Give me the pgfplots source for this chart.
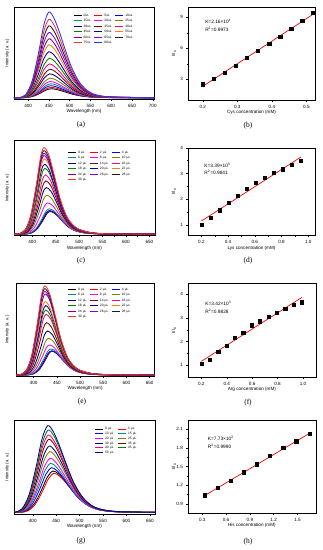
\documentclass[border=0pt]{standalone}
\usepackage{pgfplots}
\pgfplotsset{compat=1.18}
\usepackage{fontspec}
\setmainfont{Liberation Sans}
\newfontfamily\capfont{Liberation Serif}
\definecolor{cBlack}{HTML}{000000}
\definecolor{cRed}{HTML}{FF0000}
\definecolor{cBlue}{HTML}{0000FF}
\definecolor{cTeal}{HTML}{008B8B}
\definecolor{cMag}{HTML}{FF00FF}
\definecolor{cOlive}{HTML}{808000}
\definecolor{cNavy}{HTML}{000080}
\definecolor{cWine}{HTML}{800000}
\definecolor{cPink}{HTML}{FF0080}
\definecolor{cGreen}{HTML}{008000}
\definecolor{cRoyal}{HTML}{0000A0}
\definecolor{cOrange}{HTML}{FF8000}
\definecolor{cPurple}{HTML}{800080}
\definecolor{cViolet}{HTML}{8000FF}
\definecolor{cDark}{HTML}{1A1A1A}
\definecolor{cLRed}{HTML}{FF3030}
\definecolor{cLBlue}{HTML}{3030FF}
\pgfplotsset{
  base/.style={scale only axis, anchor=south west,
    axis line style={line width=0.4pt}, tick style={line width=0.35pt, black},
    tick align=outside, major tick length=1.6pt, minor tick length=0.9pt,
    xtick pos=lower, ytick pos=left,
    ticklabel style={font=\fontsize{4.6}{5}\selectfont},
    /pgf/number format/assume math mode=true,
    label style={font=\fontsize{4.6}{5}\selectfont}},
  spec/.style={base, ytick=\empty, xtick distance=50, minor x tick num=1,
    ylabel={Intensity (a. u.)}, xlabel={Wavelength (nm)},
    ylabel style={anchor=center, font=\fontsize{4.2}{5}\selectfont},
    xlabel style={at={(axis description cs:0.5,0)}, anchor=center, yshift=-12.5pt},
    every axis plot/.append style={line width=0.85pt, smooth, no marks},
    legend style={draw=none, fill=none, font=\fontsize{3.3}{3.8}\selectfont,
      inner sep=0pt, column sep=0.8pt, row sep=0.8pt, anchor=north west,
      nodes={inner sep=0.7pt, text height=2.6pt, text depth=0.7pt, align=left}},
    legend image code/.code={\draw[##1, line width=0.9pt] (0pt,0pt) -- (8pt,0pt);}},
  sv/.style={base, clip=false, minor tick num=1,
    ylabel={I/I\textsubscript{0}},
    ylabel style={at={(axis description cs:-0.11,0.5)}, anchor=center},
    xlabel style={at={(axis description cs:0.5,0)}, anchor=center, yshift=-12.5pt}},
  pts/.style={only marks, mark=square*, mark size=1.6pt, black},
  fit/.style={cRed, line width=0.7pt, no marks}
}
\begin{document}
\begin{tikzpicture}
\useasboundingbox (0,0) rectangle (323pt,-550pt);
% ---------------- (a) ----------------
\begin{axis}[spec, at={(14pt,-99pt)}, width=140pt, height=92pt,
  xmin=366, xmax=703, ymin=-4, ymax=274,
  ylabel style={at={(axis description cs:-0.048,0.5)}},
  legend columns=3,
  legend style={at={(axis description cs:0.421,0.94)}, nodes={text width=9pt}}]
\addplot[cBlack] coordinates {(366,0)(385,0)(400,1.1)(415,5.4)(430,14.0)(443,23.0)(455,27)(467,25.1)(480,20.8)(495,14.9)(510,9.5)(530,4.6)(555,1.6)(595,0.3)(703,0)};
\addplot[cRed] coordinates {(366,0)(385,0)(400,1.2)(415,6.2)(430,16.1)(443,26.4)(455,31)(467,28.8)(480,23.9)(495,17.1)(510,10.9)(530,5.3)(555,1.9)(595,0.4)(703,0)};
\addplot[cBlue] coordinates {(366,0)(384,0)(399,1.4)(414,7.2)(429,18.7)(442,30.6)(454,36)(466,33.5)(479,27.7)(494,19.8)(509,12.6)(529,6.1)(554,2.2)(594,0.4)(703,0)};
\addplot[cTeal] coordinates {(366,0)(384,0)(399,1.7)(414,8.4)(429,21.8)(442,35.7)(454,42)(466,39.1)(479,32.3)(494,23.1)(509,14.7)(529,7.1)(554,2.5)(594,0.5)(703,0)};
\addplot[cMag] coordinates {(366,0)(383,0)(398,2.0)(413,9.8)(428,25.5)(441,41.7)(453,49)(465,45.6)(478,37.7)(493,27.0)(508,17.2)(528,8.3)(553,2.9)(593,0.6)(703,0)};
\addplot[cOlive] coordinates {(366,0)(383,0)(398,2.4)(413,11.8)(428,30.7)(441,50.2)(453,59)(465,54.9)(478,45.4)(493,32.5)(508,20.7)(528,10.0)(553,3.5)(593,0.7)(703,0)};
\addplot[cNavy] coordinates {(366,0)(382,0)(397,2.9)(412,14.4)(427,37.4)(440,61.2)(452,72)(464,67.0)(477,55.4)(492,39.6)(507,25.2)(527,12.2)(552,4.3)(592,0.9)(703,0)};
\addplot[cWine] coordinates {(366,0)(382,0)(397,3.4)(412,17.2)(427,44.7)(440,73.1)(452,86)(464,80.0)(477,66.2)(492,47.3)(507,30.1)(527,14.6)(552,5.2)(592,1.0)(703,0)};
\addplot[cPink] coordinates {(366,0)(381,0)(396,4.1)(411,20.4)(426,53.0)(439,86.7)(451,102)(463,94.9)(476,78.5)(491,56.1)(506,35.7)(526,17.3)(551,6.1)(591,1.2)(703,0)};
\addplot[cGreen] coordinates {(366,0)(381,0)(396,4.8)(411,23.8)(426,61.9)(439,101.2)(451,119)(463,110.7)(476,91.6)(491,65.5)(506,41.7)(526,20.2)(551,7.1)(591,1.4)(703,0)};
\addplot[cRoyal] coordinates {(366,0)(380,0)(395,5.6)(410,27.8)(425,72.3)(438,118.2)(450,139)(462,129.3)(475,107.0)(490,76.5)(505,48.7)(525,23.6)(550,8.3)(590,1.7)(703,0)};
\addplot[cOrange] coordinates {(366,0)(380,0)(395,6.4)(410,32)(425,83.2)(438,136)(450,160)(462,148.8)(475,123.2)(490,88)(505,56)(525,27.2)(550,9.6)(590,1.9)(703,0)};
\addplot[cPurple] coordinates {(366,0)(380,0)(395,7.1)(410,35.6)(425,92.6)(438,151.3)(450,178)(462,165.5)(475,137.1)(490,97.9)(505,62.3)(525,30.3)(550,10.7)(590,2.1)(703,0)};
\addplot[cViolet] coordinates {(366,0)(380,0)(395,7.9)(410,39.4)(425,102.4)(438,167.5)(450,197)(462,183.2)(475,151.7)(490,108.4)(505,69.0)(525,33.5)(550,11.8)(590,2.4)(703,0)};
\addplot[cDark] coordinates {(366,0)(380,0)(395,8.7)(410,43.4)(425,112.8)(438,184.5)(450,217)(462,201.8)(475,167.1)(490,119.4)(505,76.0)(525,36.9)(550,13.0)(590,2.6)(703,0)};
\addplot[cLRed] coordinates {(366,0)(380,0)(395,9.5)(410,47.4)(425,123.2)(438,201.5)(450,237)(462,220.4)(475,182.5)(490,130.4)(505,83.0)(525,40.3)(550,14.2)(590,2.8)(703,0)};
\addplot[cLBlue] coordinates {(366,0)(380,0)(395,10.4)(410,51.8)(425,134.7)(438,220.2)(450,259)(462,240.9)(475,199.4)(490,142.5)(505,90.7)(525,44.0)(550,15.5)(590,3.1)(703,0)};
\legend{0uL,5uL,10uL,15uL,20uL,25uL,30uL,35uL,40uL,45uL,50uL,55uL,60uL,65uL,70uL,75uL,80uL}
\end{axis}
% ---------------- (c) ----------------
\begin{axis}[spec, at={(14pt,-235.5pt)}, width=141pt, height=95.5pt,
  xmin=361, xmax=662, ymin=-4, ymax=283,
  ylabel style={at={(axis description cs:-0.048,0.5)}},
  legend columns=3,
  legend style={at={(axis description cs:0.379,0.90)}, nodes={text width=10pt}}]
\addplot[cBlack] coordinates {(361,0)(383,0)(398,3.4)(410,15.0)(422,39.4)(431,61.2)(438,68)(448,62.6)(460,46.2)(473,27.2)(488,12.9)(508,4.8)(538,1.2)(578,0.3)(662,0)};
\addplot[cRed] coordinates {(361,0)(382,0)(397,3.5)(409,15.4)(421,40.6)(430,63)(437,70)(447,64.4)(459,47.6)(472,28)(487,13.3)(507,4.9)(537,1.3)(577,0.3)(662,0)};
\addplot[cBlue] coordinates {(361,0)(382,0)(397,3.6)(409,15.6)(421,41.2)(430,63.9)(437,71)(447,65.3)(459,48.3)(472,28.4)(487,13.5)(507,5.0)(537,1.3)(577,0.3)(662,0)};
\addplot[cTeal] coordinates {(361,0)(381,0)(396,3.8)(408,16.7)(420,44.1)(429,68.4)(436,76)(446,69.9)(458,51.7)(471,30.4)(486,14.4)(506,5.3)(536,1.4)(576,0.3)(662,0)};
\addplot[cMag] coordinates {(361,0)(378,0)(393,4.7)(405,20.7)(417,54.5)(426,84.6)(433,94)(443,86.5)(455,63.9)(468,37.6)(483,17.9)(503,6.6)(533,1.7)(573,0.4)(662,0)};
\addplot[cOlive] coordinates {(361,0)(376,0)(391,5.9)(403,25.7)(415,67.9)(424,105.3)(431,117)(441,107.6)(453,79.6)(466,46.8)(481,22.2)(501,8.2)(531,2.1)(571,0.5)(662,0)};
\addplot[cNavy] coordinates {(361,0)(375,0)(390,7)(402,30.8)(414,81.2)(423,126)(430,140)(440,128.8)(452,95.2)(465,56)(480,26.6)(500,9.8)(530,2.5)(570,0.6)(662,0)};
\addplot[cWine] coordinates {(361,0)(374,0)(389,8)(401,35.2)(413,92.8)(422,144)(429,160)(439,147.2)(451,108.8)(464,64)(479,30.4)(499,11.2)(529,2.9)(569,0.6)(662,0)};
\addplot[cPink] coordinates {(361,0)(373,0)(388,8.9)(400,39.2)(412,103.2)(421,160.2)(428,178)(438,163.8)(450,121.0)(463,71.2)(478,33.8)(498,12.5)(528,3.2)(568,0.7)(662,0)};
\addplot[cGreen] coordinates {(361,0)(372,0)(387,9.9)(399,43.6)(411,114.8)(420,178.2)(427,198)(437,182.2)(449,134.6)(462,79.2)(477,37.6)(497,13.9)(527,3.6)(567,0.8)(662,0)};
\addplot[cRoyal] coordinates {(361,0)(371,0)(386,10.5)(398,46.2)(410,121.8)(419,189)(426,210)(436,193.2)(448,142.8)(461,84)(476,39.9)(496,14.7)(526,3.8)(566,0.8)(662,0)};
\addplot[cOrange] coordinates {(361,0)(371,0)(386,11.3)(398,49.7)(410,131.1)(419,203.4)(426,226)(436,207.9)(448,153.7)(461,90.4)(476,42.9)(496,15.8)(526,4.1)(566,0.9)(662,0)};
\addplot[cPurple] coordinates {(361,0)(370,0)(385,11.8)(397,51.9)(409,136.9)(418,212.4)(425,236)(435,217.1)(447,160.5)(460,94.4)(475,44.8)(495,16.5)(525,4.2)(565,0.9)(662,0)};
\addplot[cViolet] coordinates {(361,0)(370,0)(385,12.2)(397,53.5)(409,140.9)(418,218.7)(425,243)(435,223.6)(447,165.2)(460,97.2)(475,46.2)(495,17.0)(525,4.4)(565,1.0)(662,0)};
\addplot[cDark] coordinates {(361,0)(370,0)(385,12.6)(397,55.2)(409,145.6)(418,225.9)(425,251)(435,230.9)(447,170.7)(460,100.4)(475,47.7)(495,17.6)(525,4.5)(565,1.0)(662,0)};
\addplot[cLRed] coordinates {(361,0)(370,0)(385,13)(397,57.2)(409,150.8)(418,234)(425,260)(435,239.2)(447,176.8)(460,104)(475,49.4)(495,18.2)(525,4.7)(565,1.0)(662,0)};
\legend{0 µL,2 µL,4 µL,6 µL,8 µL,10 µL,12 µL,14 µL,16 µL,18 µL,20 µL,22 µL,24 µL,26 µL,28 µL,30 µL}
\end{axis}
% ---------------- (e) ----------------
\begin{axis}[spec, at={(16pt,-376pt)}, width=138.3pt, height=92.7pt,
  xmin=362, xmax=660, ymin=-3, ymax=275,
  ylabel style={at={(axis description cs:-0.063,0.5)}},
  legend columns=3,
  legend style={at={(axis description cs:0.372,0.965)}, nodes={text width=10pt}}]
\addplot[cBlack] coordinates {(362,0)(385,0)(400,3.6)(412,15.8)(424,41.8)(433,64.8)(440,72)(450,66.2)(462,49.0)(475,28.8)(490,13.7)(510,5.0)(540,1.3)(580,0.3)(660,0)};
\addplot[cRed] coordinates {(362,0)(384,0)(399,3.6)(411,15.8)(423,41.8)(432,64.8)(439,72)(449,66.2)(461,49.0)(474,28.8)(489,13.7)(509,5.0)(539,1.3)(579,0.3)(660,0)};
\addplot[cBlue] coordinates {(362,0)(383,0)(398,3.6)(410,15.8)(422,41.8)(431,64.8)(438,72)(448,66.2)(460,49.0)(473,28.8)(488,13.7)(508,5.0)(538,1.3)(578,0.3)(660,0)};
\addplot[cTeal] coordinates {(362,0)(382,0)(397,3.9)(409,17.2)(421,45.2)(430,70.2)(437,78)(447,71.8)(459,53.0)(472,31.2)(487,14.8)(507,5.5)(537,1.4)(577,0.3)(660,0)};
\addplot[cMag] coordinates {(362,0)(379,0)(394,4.5)(406,19.8)(418,52.2)(427,81)(434,90)(444,82.8)(456,61.2)(469,36)(484,17.1)(504,6.3)(534,1.6)(574,0.4)(660,0)};
\addplot[cOlive] coordinates {(362,0)(377,0)(392,5.5)(404,24.2)(416,63.8)(425,99)(432,110)(442,101.2)(454,74.8)(467,44)(482,20.9)(502,7.7)(532,2.0)(572,0.4)(660,0)};
\addplot[cNavy] coordinates {(362,0)(375,0)(390,6.6)(402,29.0)(414,76.6)(423,118.8)(430,132)(440,121.4)(452,89.8)(465,52.8)(480,25.1)(500,9.2)(530,2.4)(570,0.5)(660,0)};
\addplot[cWine] coordinates {(362,0)(373,0)(388,7.9)(400,34.5)(412,91.1)(421,141.3)(428,157)(438,144.4)(450,106.8)(463,62.8)(478,29.8)(498,11.0)(528,2.8)(568,0.6)(660,0)};
\addplot[cPink] coordinates {(362,0)(372,0)(387,9.1)(399,40.0)(411,105.6)(420,163.8)(427,182)(437,167.4)(449,123.8)(462,72.8)(477,34.6)(497,12.7)(527,3.3)(567,0.7)(660,0)};
\addplot[cGreen] coordinates {(362,0)(371,0)(386,9.8)(398,42.9)(410,113.1)(419,175.5)(426,195)(436,179.4)(448,132.6)(461,78)(476,37.1)(496,13.7)(526,3.5)(566,0.8)(660,0)};
\addplot[cRoyal] coordinates {(362,0)(371,0)(386,10.4)(398,45.8)(410,120.6)(419,187.2)(426,208)(436,191.4)(448,141.4)(461,83.2)(476,39.5)(496,14.6)(526,3.7)(566,0.8)(660,0)};
\addplot[cOrange] coordinates {(362,0)(370,0)(385,11)(397,48.4)(409,127.6)(418,198)(425,220)(435,202.4)(447,149.6)(460,88)(475,41.8)(495,15.4)(525,4.0)(565,0.9)(660,0)};
\addplot[cPurple] coordinates {(362,0)(370,0)(385,12.2)(397,53.5)(409,140.9)(418,218.7)(425,243)(435,223.6)(447,165.2)(460,97.2)(475,46.2)(495,17.0)(525,4.4)(565,1.0)(660,0)};
\addplot[cViolet] coordinates {(362,0)(369,0)(384,12.6)(396,55.2)(408,145.6)(417,225.9)(424,251)(434,230.9)(446,170.7)(459,100.4)(474,47.7)(494,17.6)(524,4.5)(564,1.0)(660,0)};
\addplot[cDark] coordinates {(362,0)(369,0)(384,13.0)(396,57.0)(408,150.2)(417,233.1)(424,259)(434,238.3)(446,176.1)(459,103.6)(474,49.2)(494,18.1)(524,4.7)(564,1.0)(660,0)};
\addplot[cLRed] coordinates {(362,0)(369,0)(384,13.4)(396,58.7)(408,154.9)(417,240.3)(424,267)(434,245.6)(446,181.6)(459,106.8)(474,50.7)(494,18.7)(524,4.8)(564,1.1)(660,0)};
\legend{0 µL,2 µL,4 µL,6 µL,8 µL,10 µL,12 µL,14 µL,16 µL,18 µL,20 µL,22 µL,24 µL,26 µL,28 µL,30 µL}
\end{axis}
% ---------------- (g) ----------------
\begin{axis}[spec, at={(14pt,-514pt)}, width=141pt, height=94pt,
  xmin=360, xmax=661, ymin=-5, ymax=277,
  ylabel style={at={(axis description cs:-0.048,0.5)}},
  legend columns=2,
  legend style={at={(axis description cs:0.571,0.931)}, row sep=0pt, nodes={text width=11pt}}]
\addplot[cBlack] coordinates {(360,0)(373,0)(388,5.0)(403,24.8)(418,64.5)(431,105.4)(443,124)(455,115.3)(468,95.5)(483,68.2)(498,43.4)(518,21.1)(543,7.4)(583,1.5)(661,0)};
\addplot[cRed] coordinates {(360,0)(375,0)(390,4.7)(405,23.4)(420,60.8)(433,99.5)(445,117)(457,108.8)(470,90.1)(485,64.4)(500,41.0)(520,19.9)(545,7.0)(585,1.4)(661,0)};
\addplot[cBlue] coordinates {(360,0)(370,0)(385,5.4)(400,26.8)(415,69.7)(428,113.9)(440,134)(452,124.6)(465,103.2)(480,73.7)(495,46.9)(515,22.8)(540,8.0)(580,1.6)(661,0)};
\addplot[cTeal] coordinates {(360,0)(368,0)(383,5.9)(398,29.4)(413,76.4)(426,125.0)(438,147)(450,136.7)(463,113.2)(478,80.9)(493,51.5)(513,25.0)(538,8.8)(578,1.8)(661,0)};
\addplot[cMag] coordinates {(360,0)(367,0)(382,6.5)(397,32.4)(412,84.2)(425,137.7)(437,162)(449,150.7)(462,124.7)(477,89.1)(492,56.7)(512,27.5)(537,9.7)(577,1.9)(661,0)};
\addplot[cOlive] coordinates {(360,0)(366,0)(381,7.3)(396,36.4)(411,94.6)(424,154.7)(436,182)(448,169.3)(461,140.1)(476,100.1)(491,63.7)(511,30.9)(536,10.9)(576,2.2)(661,0)};
\addplot[cNavy] coordinates {(360,0)(365,0)(380,8.0)(395,39.8)(410,103.5)(423,169.2)(435,199)(447,185.1)(460,153.2)(475,109.5)(490,69.7)(510,33.8)(535,11.9)(575,2.4)(661,0)};
\addplot[cWine] coordinates {(360,0)(364,0)(379,8.8)(394,43.8)(409,113.9)(422,186.2)(434,219)(446,203.7)(459,168.6)(474,120.5)(489,76.7)(509,37.2)(534,13.1)(574,2.6)(661,0)};
\addplot[cPink] coordinates {(360,0)(363,0)(378,9.3)(393,46.4)(408,120.6)(421,197.2)(433,232)(445,215.8)(458,178.6)(473,127.6)(488,81.2)(508,39.4)(533,13.9)(573,2.8)(661,0)};
\addplot[cGreen] coordinates {(360,0)(363,0)(378,9.9)(393,49.4)(408,128.4)(421,210.0)(433,247)(445,229.7)(458,190.2)(473,135.9)(488,86.5)(508,42.0)(533,14.8)(573,3.0)(661,0)};
\addplot[cRoyal] coordinates {(360,0)(362,0)(377,10.4)(392,52)(407,135.2)(420,221)(432,260)(444,241.8)(457,200.2)(472,143)(487,91)(507,44.2)(532,15.6)(572,3.1)(661,0)};
\legend{0 µL,5 µL,10 µL,15 µL,20 µL,25 µL,30 µL,35 µL,40 µL,45 µL,50 µL}
\end{axis}
% ---------------- (b) ----------------
\begin{axis}[sv, at={(188pt,-100pt)}, width=127pt, height=93pt,
  xmin=0.157, xmax=0.525, ymin=1, ymax=10,
  xtick={0.2,0.3,0.4,0.5}, ytick={3,6,9},
  xticklabel style={/pgf/number format/.cd, fixed, fixed zerofill, precision=1},
  xlabel={Cys concentration (mM)}]
\addplot[pts] coordinates {(0.2,2.52)(0.232,3.10)(0.264,3.64)(0.296,4.29)(0.328,5.06)(0.36,5.77)(0.392,6.48)(0.424,7.16)(0.456,7.87)(0.488,8.67)(0.52,9.45)};
\addplot[fit] coordinates {(0.2,2.33)(0.52,9.31)};
\node[anchor=west, font=\fontsize{4.8}{5}\selectfont] at (axis description cs:0.108,0.842) {K=2.16×10\textsuperscript{4}};
\node[anchor=west, font=\fontsize{4.8}{5}\selectfont] at (axis description cs:0.108,0.76) {R\textsuperscript{2}=0.9973};
\end{axis}
% ---------------- (d) ----------------
\begin{axis}[sv, at={(188pt,-235.5pt)}, width=127pt, height=87.8pt,
  xmin=0.1, xmax=1.05, ymin=0.6, ymax=4,
  xtick={0.2,0.4,0.6,0.8,1.0}, ytick={1,2,3,4},
  xticklabel style={/pgf/number format/.cd, fixed, fixed zerofill, precision=1},
  xlabel={Lys concentration (mM)}]
\addplot[pts] coordinates {(0.2,1.03)(0.268,1.30)(0.335,1.58)(0.403,1.88)(0.471,2.15)(0.539,2.40)(0.606,2.63)(0.674,2.84)(0.742,3.02)(0.809,3.17)(0.877,3.33)(0.945,3.50)};
\addplot[fit] coordinates {(0.2,1.16)(0.945,3.64)};
\node[anchor=west, font=\fontsize{4.8}{5}\selectfont] at (axis description cs:0.102,0.803) {K=3.39×10\textsuperscript{3}};
\node[anchor=west, font=\fontsize{4.8}{5}\selectfont] at (axis description cs:0.102,0.72) {R\textsuperscript{2}=0.9841};
\end{axis}
% ---------------- (f) ----------------
\begin{axis}[sv, at={(188pt,-377.3pt)}, width=127.7pt, height=94pt,
  xmin=0.095, xmax=1.1, ymin=0.5, ymax=4.45,
  xtick={0.2,0.4,0.6,0.8,1.0}, ytick={1,2,3,4},
  xticklabel style={/pgf/number format/.cd, fixed, fixed zerofill, precision=1},
  xlabel={Arg concentration (mM)}]
\addplot[pts] coordinates {(0.2,1.07)(0.266,1.25)(0.332,1.56)(0.398,1.83)(0.464,2.15)(0.53,2.39)(0.596,2.69)(0.662,2.86)(0.728,3.03)(0.794,3.23)(0.86,3.39)(0.926,3.55)(0.992,3.66)};
\addplot[fit] coordinates {(0.2,1.17)(0.992,3.86)};
\node[anchor=west, font=\fontsize{4.8}{5}\selectfont] at (axis description cs:0.108,0.787) {K=3.42×10\textsuperscript{3}};
\node[anchor=west, font=\fontsize{4.8}{5}\selectfont] at (axis description cs:0.108,0.698) {R\textsuperscript{2}=0.9828};
\end{axis}
% ---------------- (h) ----------------
\begin{axis}[sv, at={(188pt,-513.3pt)}, width=127.7pt, height=93.3pt,
  xmin=0.12, xmax=1.73, ymin=0.75, ymax=2.25,
  xtick={0.3,0.6,0.9,1.2,1.5}, ytick={0.9,1.2,1.5,1.8,2.1},
  xticklabel style={/pgf/number format/.cd, fixed, fixed zerofill, precision=1},
  yticklabel style={/pgf/number format/.cd, fixed, fixed zerofill, precision=1},
  xlabel={His concentration (mM)}]
\addplot[pts] coordinates {(0.33,1.04)(0.495,1.16)(0.66,1.27)(0.825,1.41)(0.99,1.54)(1.155,1.67)(1.32,1.80)(1.485,1.91)(1.65,2.03)};
\addplot[fit] coordinates {(0.33,1.035)(1.65,2.035)};
\node[anchor=west, font=\fontsize{4.8}{5}\selectfont] at (axis description cs:0.128,0.804) {K=7.73×10\textsuperscript{2}};
\node[anchor=west, font=\fontsize{4.8}{5}\selectfont] at (axis description cs:0.128,0.714) {R\textsuperscript{2}=0.9990};
\end{axis}
% captions
\node[font=\capfont\fontsize{7.5}{9}\selectfont] at (81pt,-125pt) {(a)};
\node[font=\capfont\fontsize{7.5}{9}\selectfont] at (248pt,-126pt) {(b)};
\node[font=\capfont\fontsize{7.5}{9}\selectfont] at (81pt,-261pt) {(c)};
\node[font=\capfont\fontsize{7.5}{9}\selectfont] at (248pt,-261pt) {(d)};
\node[font=\capfont\fontsize{7.5}{9}\selectfont] at (82pt,-402pt) {(e)};
\node[font=\capfont\fontsize{7.5}{9}\selectfont] at (248pt,-403pt) {(f)};
\node[font=\capfont\fontsize{7.5}{9}\selectfont] at (81pt,-541pt) {(g)};
\node[font=\capfont\fontsize{7.5}{9}\selectfont] at (248pt,-542pt) {(h)};
\end{tikzpicture}
\end{document}
